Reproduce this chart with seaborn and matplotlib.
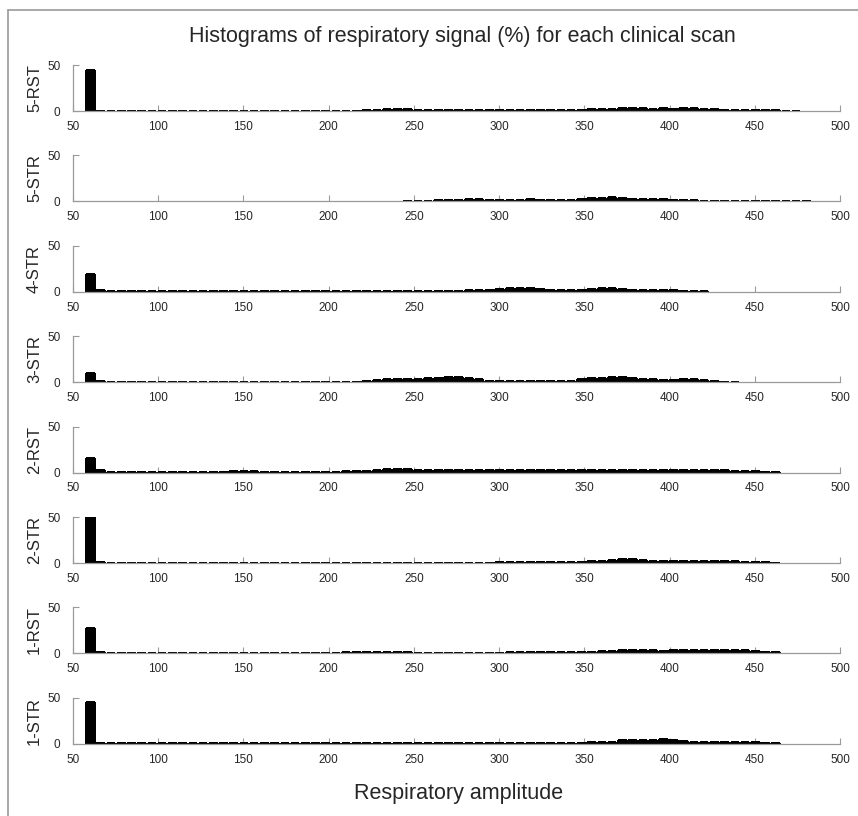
import pandas as pd
import seaborn as sns
import matplotlib.pyplot as plt
from matplotlib.lines import Line2D

# bin centres of the histograms (respiratory amplitude)
bin_centers = [60, 66, 72, 78, 84, 90, 96, 102, 108, 114, 120, 126, 132, 138, 144, 150,
               156, 162, 168, 174, 180, 186, 192, 198, 204, 210, 216, 222, 228, 234, 240,
               246, 252, 258, 264, 270, 276, 282, 288, 294, 300, 306, 312, 318, 324, 330,
               336, 342, 348, 354, 360, 366, 372, 378, 384, 390, 396, 402, 408, 414, 420,
               426, 432, 438, 444, 450, 456, 462, 468, 474, 480]

scan_labels = ['5-RST', '5-STR', '4-STR', '3-STR', '2-RST', '2-STR', '1-RST', '1-STR']

# percent of signal per bin
rst5 = [45, 0.5, 0.5, 0.5, 0.5, 0.5, 0.5, 0.5, 0.5, 0.5, 0.5, 0.5, 0.5, 0.5, 0.5, 0.5,
        0.5, 0.5, 0.5, 0.5, 0.5, 0.5, 0.5, 0.5, 0.5, 0.5, 0.5, 1.0, 1.2, 1.8, 2.5,
        2.5, 1.5, 1.0, 1.0, 1.0, 1.0, 1.0, 1.0, 1.0, 1.0, 1.0, 1.0, 1.0, 1.0, 1.2,
        1.2, 1.5, 1.5, 1.8, 1.8, 2.2, 3.5, 3.8, 3.5, 2.5, 3.0, 2.5, 3.0, 3.0, 2.2,
        1.8, 1.5, 1.2, 1.0, 0.8, 0.7, 0.6, 0.5, 0.5, 0]
str5 = [0, 0, 0, 0, 0, 0, 0, 0, 0, 0, 0, 0, 0, 0, 0, 0,
        0, 0, 0, 0, 0, 0, 0, 0, 0, 0, 0, 0, 0, 0, 0,
        0.5, 0.6, 0.8, 1.0, 1.2, 1.5, 2.5, 3.0, 1.8, 1.2, 1.2, 1.5, 2.2, 1.8, 1.5,
        1.5, 1.8, 2.5, 3.3, 3.6, 4.5, 3.6, 3.0, 3.0, 3.0, 2.6, 1.8, 1.2, 1.0, 0.8,
        0.6, 0.6, 0.6, 0.6, 0.6, 0.6, 0.6, 0.6, 0.6, 0.5]
str4 = [19, 1.8, 0.7, 0.7, 0.8, 0.8, 1.0, 1.0, 0.8, 0.8, 1.0, 1.0, 1.1, 1.1, 1.2, 1.2,
        1.1, 1.0, 1.0, 0.8, 0.8, 0.8, 0.7, 0.7, 0.7, 0.7, 0.7, 0.7, 0.8, 0.8, 1.0,
        1.0, 1.1, 1.2, 1.2, 1.2, 1.3, 1.5, 1.5, 1.8, 3.0, 3.6, 4.2, 3.6, 3.0, 1.8,
        1.5, 1.8, 2.4, 3.0, 3.6, 3.6, 3.4, 2.4, 1.8, 1.5, 1.8, 1.8, 1.2, 1.0, 0.6,
        0, 0, 0, 0, 0, 0, 0, 0, 0, 0]
str3 = [10, 1.2, 0.7, 0.7, 0.7, 0.7, 0.7, 0.7, 0.7, 0.7, 0.7, 0.7, 0.7, 0.7, 0.7, 0.7,
        0.7, 0.7, 0.7, 0.7, 0.7, 0.7, 0.7, 0.7, 0.7, 0.7, 0.7, 1.2, 2.4, 3.6, 3.0,
        3.0, 3.6, 4.2, 4.8, 5.4, 6.0, 4.8, 3.0, 1.8, 1.5, 1.5, 1.5, 1.5, 1.5, 1.5,
        1.5, 1.8, 3.0, 4.2, 4.8, 5.4, 5.4, 4.8, 3.6, 3.0, 2.4, 2.4, 3.0, 3.0, 2.4,
        1.2, 0.7, 0.5, 0, 0, 0, 0, 0, 0, 0]
rst2 = [16, 2.4, 0.8, 0.8, 0.8, 0.8, 0.8, 0.8, 0.8, 0.8, 1.0, 1.0, 1.1, 1.1, 1.2, 1.2,
        1.2, 1.1, 1.0, 1.0, 0.8, 0.8, 0.8, 0.8, 1.0, 1.2, 1.5, 2.2, 3.0, 3.6, 4.2,
        3.6, 3.0, 2.4, 2.4, 2.4, 2.4, 2.4, 2.6, 2.4, 2.4, 2.4, 2.4, 2.4, 2.4, 2.4,
        2.4, 2.4, 2.4, 2.4, 2.4, 2.4, 2.4, 2.4, 2.4, 2.4, 2.4, 2.4, 2.4, 2.4, 2.4,
        2.4, 2.4, 1.8, 1.5, 1.2, 1.0, 0.6, 0, 0, 0]
str2 = [50, 0.7, 0.5, 0.5, 0.5, 0.5, 0.5, 0.5, 0.5, 0.5, 0.5, 0.5, 0.5, 0.5, 0.5, 0.5,
        0.5, 0.5, 0.5, 0.5, 0.5, 0.5, 0.5, 0.5, 0.5, 0.5, 0.5, 0.5, 0.5, 0.5, 0.5,
        0.5, 0.5, 0.5, 0.5, 0.5, 0.5, 0.5, 0.5, 0.5, 1.0, 1.0, 1.2, 1.2, 1.2, 1.2,
        1.2, 1.5, 1.5, 1.8, 2.4, 3.0, 4.2, 4.8, 3.6, 2.4, 1.8, 1.8, 1.8, 1.8, 1.8,
        1.8, 1.8, 1.8, 1.5, 1.2, 0.7, 0.5, 0, 0, 0]
rst1 = [28, 1.5, 0.6, 0.6, 0.6, 0.6, 0.6, 0.6, 0.6, 0.6, 0.6, 0.6, 0.6, 0.6, 0.6, 0.6,
        0.6, 0.6, 0.6, 0.6, 0.6, 0.6, 0.6, 0.6, 0.7, 1.0, 1.0, 1.0, 1.0, 1.0, 1.0,
        1.0, 0.7, 0.6, 0.6, 0.6, 0.6, 0.6, 0.6, 0.6, 0.6, 1.0, 1.0, 1.0, 1.0, 1.0,
        1.0, 1.0, 1.0, 1.8, 2.4, 3.0, 3.6, 4.2, 3.6, 3.6, 3.0, 3.6, 3.6, 3.6, 3.6,
        3.6, 3.6, 3.6, 3.6, 3.0, 1.8, 1.0, 0, 0, 0]
str1 = [45, 0.6, 0.5, 0.5, 0.5, 0.5, 0.5, 0.5, 0.5, 0.5, 0.5, 0.5, 0.5, 0.5, 0.5, 0.5,
        0.5, 0.5, 0.5, 0.5, 0.5, 0.5, 0.5, 0.5, 0.5, 0.5, 0.5, 0.5, 1.0, 1.0, 1.2,
        1.2, 1.0, 1.0, 1.0, 1.0, 1.0, 1.0, 1.0, 1.0, 1.0, 1.0, 1.0, 1.0, 1.0, 1.0,
        1.0, 1.0, 1.2, 1.5, 1.8, 2.4, 3.6, 4.2, 3.6, 4.2, 5.4, 4.2, 3.0, 2.4, 2.4,
        2.4, 2.4, 2.4, 2.4, 1.8, 1.2, 0.6, 0, 0, 0]

scan_values = [rst5, str5, str4, str3, rst2, str2, rst1, str1]

sns.set_style('white')
plt.rcParams['font.family'] = ['Liberation Sans', 'DejaVu Sans']

W, H = 858, 816
fig = plt.figure(figsize=(W / 100, H / 100), dpi=100)

bin_width = 6
edges = [c - bin_width / 2 for c in bin_centers] + [bin_centers[-1] + bin_width / 2]

spine_col = '#9a9a9a'
left_px, right_px = 73, 840
for i, (label, vals) in enumerate(zip(scan_labels, scan_values)):
    zero_px = 111 + 90.4 * i
    ax = fig.add_axes([left_px / W, (H - zero_px) / H, (right_px - left_px) / W, 46 / H])
    df = pd.DataFrame({'amp': bin_centers, 'pct': vals})
    sns.histplot(data=df, x='amp', weights='pct', bins=edges, shrink=0.74,
                 color='black', alpha=1, edgecolor='black', linewidth=1.0, ax=ax)
    # empty bins are not drawn; the rest are drawn crisp like the old bitmap
    for p in ax.patches:
        if p.get_height() == 0:
            p.set_visible(False)
        p.set_antialiased(False)
    ax.set_xlim(50, 500)
    ax.set_ylim(0, 50)
    ax.set_xticks(range(50, 501, 50))
    ax.set_yticks([0, 50])
    ax.tick_params(axis='x', direction='in', length=4, width=0.8, color=spine_col,
                   labelsize=8.5, pad=7, bottom=True)
    ax.tick_params(axis='y', direction='in', length=4, width=0.8, color=spine_col,
                   labelsize=8.5, pad=9, left=True)
    for side in ['top', 'right']:
        ax.spines[side].set_visible(False)
    for side in ['left', 'bottom']:
        ax.spines[side].set_color(spine_col)
        ax.spines[side].set_linewidth(0.9)
    ax.set_xlabel('')
    ax.set_ylabel(label, fontsize=12)
    ax.yaxis.set_label_coords((42 - left_px) / (right_px - left_px), 0.5)

fig.text(0.5 * (183 + 742) / W, 1 - 42 / H,
         'Histograms of respiratory signal (%) for each clinical scan',
         ha='center', va='baseline', fontsize=15.5)
fig.text((352 + 565) / 2 / W, 1 - 799 / H, 'Respiratory amplitude',
         ha='center', va='baseline', fontsize=15.5)

# grey frame line along top and left edges
fig.add_artist(Line2D([8 / W, 8 / W], [0, 1 - 10 / H], transform=fig.transFigure,
                      color='#9a9a9a', linewidth=1.2))
fig.add_artist(Line2D([8 / W, 1], [1 - 10 / H, 1 - 10 / H], transform=fig.transFigure,
                      color='#9a9a9a', linewidth=1.2))

fig.savefig('out.png', dpi=100)
